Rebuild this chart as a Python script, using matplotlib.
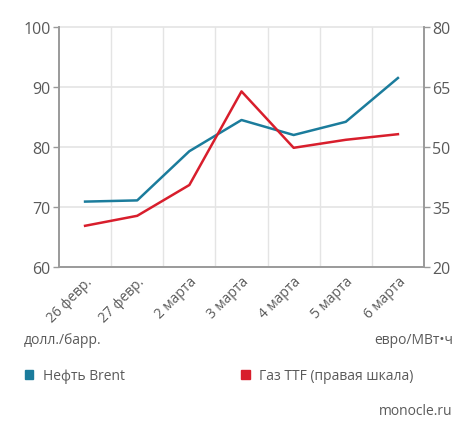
import matplotlib
matplotlib.use('Agg')
import matplotlib.pyplot as plt
from matplotlib.patches import Patch

# Data
dates = ['26 февр.', '27 февр.', '2 марта', '3 марта', '4 марта', '5 марта', '6 марта']
brent = [70.9, 71.1, 79.3, 84.5, 82.0, 84.2, 91.5]  # долл./барр.
ttf = [30.3, 32.8, 40.5, 63.9, 49.8, 51.8, 53.2]    # евро/МВт·ч
left_ticks = [60, 70, 80, 90, 100]
right_ticks = [20, 35, 50, 65, 80]

blue = '#1b7c9c'
red = '#d81e2c'
grid_col = '#e4e4e4'
spine_col = '#9a9a9a'
txt_col = '#5a5a5a'

plt.rcParams['font.family'] = ['Open Sans', 'DejaVu Sans']

fig = plt.figure(figsize=(4.77, 4.39), dpi=100)
ax = fig.add_axes([59/477, 1-268/439, 365/477, 240/439])
ax2 = ax.twinx()

x = range(len(dates))
ax.plot(x, brent, color=blue, linewidth=1.8, zorder=3)
ax2.plot(x, ttf, color=red, linewidth=1.8, zorder=3)

ax.set_xlim(-0.5, len(dates) - 0.5)
ax.set_ylim(left_ticks[0], left_ticks[-1])
ax2.set_ylim(right_ticks[0], right_ticks[-1])
ax.set_yticks(left_ticks)
ax2.set_yticks(right_ticks)

# vertical grid on category boundaries
for b in [i + 0.5 for i in range(len(dates) - 1)]:
    ax.axvline(b, color=grid_col, linewidth=1, zorder=0)
for v in left_ticks[1:]:
    ax.axhline(v, color=grid_col, linewidth=1.2, zorder=0, clip_on=False)

ax.set_xticks(list(x))
ax.set_xticklabels(dates, rotation=45, ha='right', va='top', rotation_mode='anchor')
ax.tick_params(axis='x', length=0, pad=5, labelsize=10, labelcolor=txt_col)
ax.tick_params(axis='y', length=4, width=1, color=spine_col, labelsize=11.5, labelcolor=txt_col, pad=2)
ax2.tick_params(axis='y', length=4, width=1, color=spine_col, labelsize=11.5, labelcolor=txt_col, pad=2)

for a in (ax, ax2):
    a.spines['top'].set_visible(False)
    for s in ('left', 'right', 'bottom'):
        a.spines[s].set_color(spine_col)
        a.spines[s].set_linewidth(1.2)

fig.text(24/477, 1-341/439, 'долл./барр.', color=txt_col, fontsize=10, va='center', ha='left')
fig.text(453/477, 1-341/439, 'евро/МВт•ч', color=txt_col, fontsize=10, va='center', ha='right')
fig.text(453/477, 1-412/439, 'monocle.ru', color=txt_col, fontsize=10, va='center', ha='right')

handles = [Patch(color=blue, label='Нефть Brent'), Patch(color=red, label='Газ TTF (правая шкала)')]
leg = fig.legend(handles=handles, loc='center left', bbox_to_anchor=(12/477, 1-377/439), ncol=2,
                 frameon=False, fontsize=10, handlelength=0.6, handleheight=0.6,
                 handletextpad=0.7, columnspacing=8.4, labelcolor=txt_col)

fig.savefig('out.png', dpi=100)
